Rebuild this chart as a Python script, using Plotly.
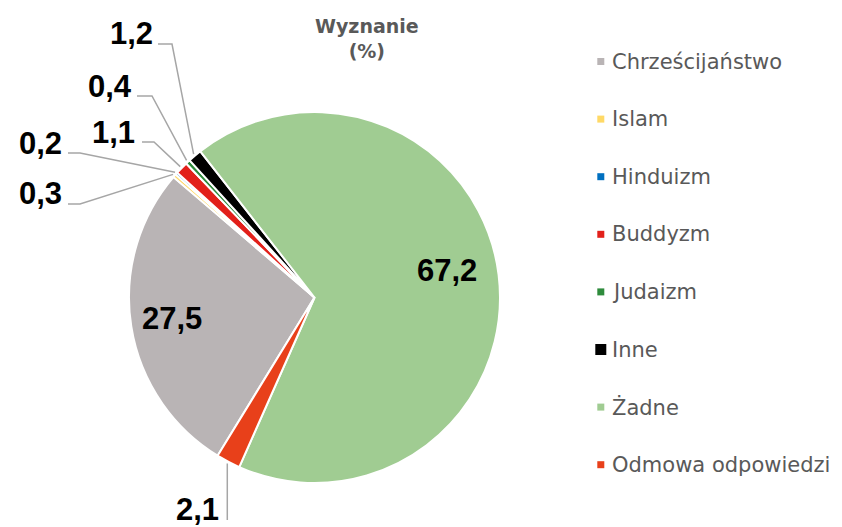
import math
import plotly.graph_objects as go

# ---- data ----
categories = ["Chrześcijaństwo", "Islam", "Hinduizm", "Buddyzm", "Judaizm",
              "Inne", "Żadne", "Odmowa odpowiedzi"]
values = [27.5, 0.3, 0.2, 1.1, 0.4, 1.2, 67.2, 2.1]
title_text = "Wyznanie<br>(%)"

# ---- style ----
colors = ["#B9B4B5", "#FFD966", "#0070C0", "#E2201A", "#2E8B3C",
          "#000000", "#A0CC92", "#E8401A"]
W, H = 842, 527
CX, CY, R = 314.5, 297.5, 185.5   # pie placement in pixels
ROT = 211.5                       # start angle (deg, clockwise from 12 o'clock)

# label placement (pixel centres) and leader-line geometry (layout only)
label_pos = {
    "Chrześcijaństwo": (172, 318),
    "Islam": (40, 193),
    "Hinduizm": (40, 144),
    "Buddyzm": (113, 132),
    "Judaizm": (110, 86),
    "Inne": (131, 34),
    "Żadne": (447, 270),
    "Odmowa odpowiedzi": (197, 509),
}
# (x_start, x_elbow, y_line) for elbow leaders
leader_geom = {
    "Islam": (68, 80, 204),
    "Hinduizm": (68, 80, 153),
    "Buddyzm": (142, 154, 142),
    "Judaizm": (137, 152, 96),
    "Inne": (158, 172, 44),
}
vertical_leader_end = {"Odmowa odpowiedzi": 520}


def px(x):
    return x / W


def py(y):
    return 1 - y / H


def fmt(v):
    return f"{v:.1f}".replace(".", ",")


fig = go.Figure()
fig.add_trace(go.Pie(
    labels=categories,
    values=values,
    sort=False,
    direction="clockwise",
    rotation=ROT,
    marker=dict(colors=colors, line=dict(color="white", width=2)),
    textinfo="none",
    showlegend=False,
    domain=dict(x=[px(CX - R), px(CX + R)], y=[py(CY + R), py(CY - R)]),
))

total = sum(values)
shapes = []
annotations = []
cum = 0.0
for cat, v in zip(categories, values):
    mid = math.radians(ROT + 360.0 * (cum + v / 2) / total)
    cum += v
    ax = CX + (R + 2) * math.sin(mid)
    ay = CY - (R + 2) * math.cos(mid)
    lx, ly = label_pos[cat]
    annotations.append(dict(
        x=px(lx), y=py(ly), xref="paper", yref="paper",
        text="<b>" + fmt(v) + "</b>",
        showarrow=False, xanchor="center", yanchor="middle",
        font=dict(family="Liberation Sans", size=31, color="#000000"),
    ))
    if cat in leader_geom:
        xs, xe, yl = leader_geom[cat]
        path = (f"M {px(xs)} {py(yl)} L {px(xe)} {py(yl)} "
                f"L {px(ax)} {py(ay)}")
        shapes.append(dict(type="path", xref="paper", yref="paper", path=path,
                           line=dict(color="#A6A6A6", width=1.5)))
    elif cat in vertical_leader_end:
        ye = vertical_leader_end[cat]
        path = f"M {px(ax)} {py(ay)} L {px(ax)} {py(ye)}"
        shapes.append(dict(type="path", xref="paper", yref="paper", path=path,
                           line=dict(color="#A6A6A6", width=1.5)))

# manual legend
LEG_X_TEXT = 610
LEG_Y0, LEG_DY = 61.5, 57.6
for i, (cat, col) in enumerate(zip(categories, colors)):
    yc = LEG_Y0 + i * LEG_DY
    s = 11 if cat == "Inne" else 7
    xc = 600.8
    shapes.append(dict(type="rect", xref="paper", yref="paper",
                       x0=px(xc - s / 2), x1=px(xc + s / 2),
                       y0=py(yc + s / 2), y1=py(yc - s / 2),
                       fillcolor=col, line=dict(width=0)))
    annotations.append(dict(
        x=px(LEG_X_TEXT), y=py(yc), xref="paper", yref="paper", text=cat,
        showarrow=False, xanchor="left", yanchor="middle",
        font=dict(family="DejaVu Sans", size=21, color="#595959"),
    ))

# title
annotations.append(dict(
    x=px(367), y=py(38), xref="paper", yref="paper", text="<b>" + title_text + "</b>",
    showarrow=False, xanchor="center", yanchor="middle", align="center",
    font=dict(family="DejaVu Sans", size=19, color="#595959"),
))

fig.update_layout(
    width=W, height=H,
    margin=dict(l=0, r=0, t=0, b=0),
    paper_bgcolor="white", plot_bgcolor="white",
    shapes=shapes, annotations=annotations,
    showlegend=False,
)

fig.write_html("out.html", config={"displayModeBar": False},
               post_script="document.body.style.margin='0';document.body.style.overflow='hidden';")
